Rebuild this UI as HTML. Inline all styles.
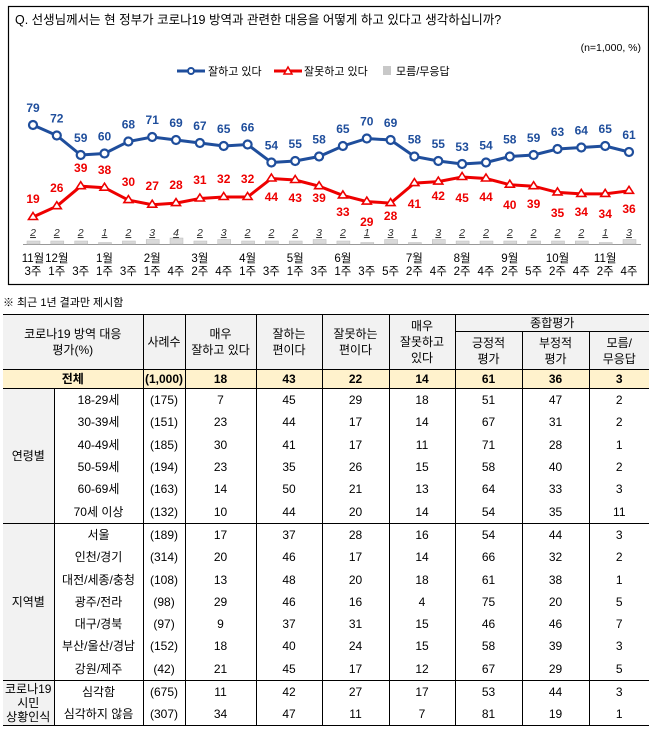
<!DOCTYPE html>
<html><head><meta charset="utf-8">
<style>
body{margin:0;width:649px;height:730px;background:#fff;font-family:"Liberation Sans","Noto Sans CJK KR","NanumGothic",sans-serif;position:relative;overflow:hidden}
svg text{font-family:"Liberation Sans","Noto Sans CJK KR","NanumGothic",sans-serif}
.note{position:absolute;left:3px;top:294px;font-size:11px;color:#000}
table{position:absolute;left:3px;top:314px;border-collapse:collapse;table-layout:fixed;font-size:12px;text-align:center}
td{padding:0;border:0;white-space:nowrap;line-height:14px}
.hd td{background:#f2f2f2;border-left:1px solid #000;line-height:16px}
.tot td{background:#fff2cc;font-weight:bold;border-top:1px solid #000;border-bottom:1px solid #000;border-left:1px solid #000}
.r td{height:22.3px}
.r td.c1{border-left:1px solid #000}
.r td.c2{border-left:1px solid #000}
.g{background:#f2f2f2;border-right:1px solid #000}
.sep td{border-top:1px solid #000}
</style></head><body>
<svg width="649" height="290" style="position:absolute;left:0;top:0">
<rect x="8.5" y="6.5" width="640" height="278" fill="none" stroke="#000" stroke-width="1.2"/>
<text x="15" y="24" font-size="12.5">Q. 선생님께서는 현 정부가 코로나19 방역과 관련한 대응을 어떻게 하고 있다고 생각하십니까?</text>
<text x="641" y="51" font-size="10.5" text-anchor="end">(n=1,000, %)</text>
<line x1="177" y1="71" x2="205" y2="71" stroke="#1f4e9c" stroke-width="3"/><circle cx="191" cy="71" r="3" fill="#fff" stroke="#1f4e9c" stroke-width="2"/>
<text x="208" y="75" font-size="11">잘하고 있다</text>
<line x1="274" y1="71" x2="302" y2="71" stroke="#e00" stroke-width="3"/><path d="M288,67 L292,74 L284,74Z" fill="#fff" stroke="#e00" stroke-width="1.5"/>
<text x="304" y="75" font-size="11">잘못하고 있다</text>
<rect x="383" y="66" width="8" height="9" fill="#c8c8c8"/>
<text x="396" y="75" font-size="11">모름/무응답</text>
<line x1="23" y1="244.5" x2="641" y2="244.5" stroke="#999" stroke-width="1"/>
<g fill="#d9d9d9" stroke="#bbb" stroke-width="0.5">
<rect x="27" y="241" width="13" height="3"/><rect x="50.8" y="241" width="13" height="3"/><rect x="74.7" y="241" width="13" height="3"/><rect x="98.5" y="242.5" width="13" height="1.5"/><rect x="122.4" y="241" width="13" height="3"/><rect x="146.2" y="239.5" width="13" height="4.5"/><rect x="170" y="238" width="13" height="6"/><rect x="193.9" y="241" width="13" height="3"/><rect x="217.7" y="239.5" width="13" height="4.5"/><rect x="241.6" y="241" width="13" height="3"/><rect x="265.4" y="241" width="13" height="3"/><rect x="289.2" y="241" width="13" height="3"/><rect x="313.1" y="239.5" width="13" height="4.5"/><rect x="336.9" y="241" width="13" height="3"/><rect x="360.8" y="242.5" width="13" height="1.5"/><rect x="384.6" y="239.5" width="13" height="4.5"/><rect x="408.4" y="242.5" width="13" height="1.5"/><rect x="432.3" y="239.5" width="13" height="4.5"/><rect x="456.1" y="241" width="13" height="3"/><rect x="480" y="241" width="13" height="3"/><rect x="503.8" y="241" width="13" height="3"/><rect x="527.6" y="241" width="13" height="3"/><rect x="551.5" y="241" width="13" height="3"/><rect x="575.3" y="241" width="13" height="3"/><rect x="599.2" y="242.5" width="13" height="1.5"/><rect x="623" y="239.5" width="13" height="4.5"/>
</g>
<g font-size="10.5" font-style="italic" text-anchor="middle" text-decoration="underline" fill="#333">
<text x="33" y="236">2</text><text x="56.8" y="236">2</text><text x="80.7" y="236">2</text><text x="104.5" y="236">1</text><text x="128.4" y="236">2</text><text x="152.2" y="236">3</text><text x="176" y="236">4</text><text x="199.9" y="236">2</text><text x="223.7" y="236">3</text><text x="247.6" y="236">2</text><text x="271.4" y="236">2</text><text x="295.2" y="236">2</text><text x="319.1" y="236">3</text><text x="342.9" y="236">2</text><text x="366.8" y="236">1</text><text x="390.6" y="236">3</text><text x="414.4" y="236">1</text><text x="438.3" y="236">3</text><text x="462.1" y="236">2</text><text x="486" y="236">2</text><text x="509.8" y="236">2</text><text x="533.6" y="236">2</text><text x="557.5" y="236">2</text><text x="581.3" y="236">2</text><text x="605.2" y="236">1</text><text x="629" y="236">3</text>
</g>
<polyline fill="none" stroke="#1f4e9c" stroke-width="3" points="33,125 56.8,135.5 80.7,155 104.5,153.5 128.4,141.5 152.2,137 176,140 199.9,143 223.7,146 247.6,144.5 271.4,162.5 295.2,161 319.1,156.5 342.9,146 366.8,138.5 390.6,140 414.4,156.5 438.3,161 462.1,164 486,162.5 509.8,156.5 533.6,155 557.5,149 581.3,147.5 605.2,146 629,152"/>
<g fill="#fff" stroke="#1f4e9c" stroke-width="2.2">
<circle cx="33" cy="125" r="4"/><circle cx="56.8" cy="135.5" r="4"/><circle cx="80.7" cy="155" r="4"/><circle cx="104.5" cy="153.5" r="4"/><circle cx="128.4" cy="141.5" r="4"/><circle cx="152.2" cy="137" r="4"/><circle cx="176" cy="140" r="4"/><circle cx="199.9" cy="143" r="4"/><circle cx="223.7" cy="146" r="4"/><circle cx="247.6" cy="144.5" r="4"/><circle cx="271.4" cy="162.5" r="4"/><circle cx="295.2" cy="161" r="4"/><circle cx="319.1" cy="156.5" r="4"/><circle cx="342.9" cy="146" r="4"/><circle cx="366.8" cy="138.5" r="4"/><circle cx="390.6" cy="140" r="4"/><circle cx="414.4" cy="156.5" r="4"/><circle cx="438.3" cy="161" r="4"/><circle cx="462.1" cy="164" r="4"/><circle cx="486" cy="162.5" r="4"/><circle cx="509.8" cy="156.5" r="4"/><circle cx="533.6" cy="155" r="4"/><circle cx="557.5" cy="149" r="4"/><circle cx="581.3" cy="147.5" r="4"/><circle cx="605.2" cy="146" r="4"/><circle cx="629" cy="152" r="4"/>
</g>
<polyline fill="none" stroke="#e00" stroke-width="3" points="33,217 56.8,206.2 80.7,186.2 104.5,187.7 128.4,200.1 152.2,204.7 176,203.1 199.9,198.5 223.7,197 247.6,197 271.4,178.5 295.2,180 319.1,186.2 342.9,195.4 366.8,201.6 390.6,203.1 414.4,183.1 438.3,181.6 462.1,177 486,178.5 509.8,184.7 533.6,186.2 557.5,192.4 581.3,193.9 605.2,193.9 629,190.8"/>
<g fill="#fff" stroke="#e00" stroke-width="1.6">
<path d="M33,212.5l4.5,7h-9z"/><path d="M56.8,201.7l4.5,7h-9z"/><path d="M80.7,181.7l4.5,7h-9z"/><path d="M104.5,183.2l4.5,7h-9z"/><path d="M128.4,195.6l4.5,7h-9z"/><path d="M152.2,200.2l4.5,7h-9z"/><path d="M176,198.6l4.5,7h-9z"/><path d="M199.9,194l4.5,7h-9z"/><path d="M223.7,192.5l4.5,7h-9z"/><path d="M247.6,192.5l4.5,7h-9z"/><path d="M271.4,174l4.5,7h-9z"/><path d="M295.2,175.5l4.5,7h-9z"/><path d="M319.1,181.7l4.5,7h-9z"/><path d="M342.9,190.9l4.5,7h-9z"/><path d="M366.8,197.1l4.5,7h-9z"/><path d="M390.6,198.6l4.5,7h-9z"/><path d="M414.4,178.6l4.5,7h-9z"/><path d="M438.3,177.1l4.5,7h-9z"/><path d="M462.1,172.5l4.5,7h-9z"/><path d="M486,174l4.5,7h-9z"/><path d="M509.8,180.2l4.5,7h-9z"/><path d="M533.6,181.7l4.5,7h-9z"/><path d="M557.5,187.9l4.5,7h-9z"/><path d="M581.3,189.4l4.5,7h-9z"/><path d="M605.2,189.4l4.5,7h-9z"/><path d="M629,186.3l4.5,7h-9z"/>
</g>
<g font-size="12" font-weight="bold" fill="#1f4e9c" text-anchor="middle">
<text x="33" y="112">79</text><text x="56.8" y="122.5">72</text><text x="80.7" y="142">59</text><text x="104.5" y="140.5">60</text><text x="128.4" y="128.5">68</text><text x="152.2" y="124">71</text><text x="176" y="127">69</text><text x="199.9" y="130">67</text><text x="223.7" y="133">65</text><text x="247.6" y="131.5">66</text><text x="271.4" y="149.5">54</text><text x="295.2" y="148">55</text><text x="319.1" y="143.5">58</text><text x="342.9" y="133">65</text><text x="366.8" y="125.5">70</text><text x="390.6" y="127">69</text><text x="414.4" y="143.5">58</text><text x="438.3" y="148">55</text><text x="462.1" y="151">53</text><text x="486" y="149.5">54</text><text x="509.8" y="143.5">58</text><text x="533.6" y="142">59</text><text x="557.5" y="136">63</text><text x="581.3" y="134.5">64</text><text x="605.2" y="133">65</text><text x="629" y="139">61</text>
</g>
<g font-size="12" font-weight="bold" fill="#e00" text-anchor="middle">
<text x="33" y="203">19</text><text x="56.8" y="192">26</text><text x="80.7" y="172">39</text><text x="104.5" y="174">38</text><text x="128.4" y="186">30</text><text x="152.2" y="190">27</text><text x="176" y="189">28</text><text x="199.9" y="184">31</text><text x="223.7" y="183">32</text><text x="247.6" y="183">32</text>
<text x="271.4" y="201">44</text><text x="295.2" y="202">43</text><text x="319.1" y="202">39</text><text x="342.9" y="216">33</text><text x="366.8" y="226">29</text><text x="390.6" y="220">28</text><text x="414.4" y="208">41</text><text x="438.3" y="200">42</text><text x="462.1" y="202">45</text><text x="486" y="201">44</text><text x="509.8" y="209">40</text><text x="533.6" y="208">39</text><text x="557.5" y="217">35</text><text x="581.3" y="216">34</text><text x="605.2" y="218">34</text><text x="629" y="213">36</text>
</g>
<g font-size="11.5" text-anchor="middle" fill="#000">
<text x="33" y="262">11월</text><text x="56.8" y="262">12월</text><text x="104.5" y="262">1월</text><text x="152.2" y="262">2월</text><text x="199.9" y="262">3월</text><text x="247.6" y="262">4월</text><text x="295.2" y="262">5월</text><text x="342.9" y="262">6월</text><text x="414.4" y="262">7월</text><text x="462.1" y="262">8월</text><text x="509.8" y="262">9월</text><text x="557.5" y="262">10월</text><text x="605.2" y="262">11월</text>
<text x="33" y="275">3주</text><text x="56.8" y="275">1주</text><text x="80.7" y="275">3주</text><text x="104.5" y="275">1주</text><text x="128.4" y="275">3주</text><text x="152.2" y="275">1주</text><text x="176" y="275">4주</text><text x="199.9" y="275">2주</text><text x="223.7" y="275">4주</text><text x="247.6" y="275">1주</text><text x="271.4" y="275">3주</text><text x="295.2" y="275">1주</text><text x="319.1" y="275">3주</text><text x="342.9" y="275">1주</text><text x="366.8" y="275">3주</text><text x="390.6" y="275">5주</text><text x="414.4" y="275">2주</text><text x="438.3" y="275">4주</text><text x="462.1" y="275">2주</text><text x="486" y="275">4주</text><text x="509.8" y="275">2주</text><text x="533.6" y="275">5주</text><text x="557.5" y="275">2주</text><text x="581.3" y="275">4주</text><text x="605.2" y="275">2주</text><text x="629" y="275">4주</text>
</g>
</svg>
<div class="note">※ 최근 1년 결과만 제시함</div>
<table style="width:646px;border-top:1px solid #000;border-bottom:1px solid #000">
<colgroup><col style="width:51px"><col style="width:89px"><col style="width:42px"><col style="width:71px"><col style="width:66px"><col style="width:67px"><col style="width:66px"><col style="width:67px"><col style="width:67px"><col style="width:60px"></colgroup>
<tr class="hd" style="height:17px"><td colspan="2" rowspan="2" style="border-left:0">코로나19 방역 대응<br>평가(%)</td><td rowspan="2">사례수</td><td rowspan="2">매우<br>잘하고 있다</td><td rowspan="2">잘하는<br>편이다</td><td rowspan="2">잘못하는<br>편이다</td><td rowspan="2">매우<br>잘못하고<br>있다</td><td colspan="3" style="border-bottom:1px solid #000">종합평가</td></tr>
<tr class="hd" style="height:38px"><td>긍정적<br>평가</td><td>부정적<br>평가</td><td>모름/<br>무응답</td></tr>
<tr class="tot" style="height:19px"><td colspan="2" style="border-left:0">전체</td><td>(1,000)</td><td>18</td><td>43</td><td>22</td><td>14</td><td>61</td><td>36</td><td>3</td></tr>
<tr class="r"><td class="g" rowspan="6">연령별</td><td>18-29세</td><td class="c1">(175)</td><td class="c2">7</td><td class="c2">45</td><td class="c2">29</td><td class="c2">18</td><td class="c2">51</td><td class="c2">47</td><td class="c2">2</td></tr>
<tr class="r"><td>30-39세</td><td class="c1">(151)</td><td class="c2">23</td><td class="c2">44</td><td class="c2">17</td><td class="c2">14</td><td class="c2">67</td><td class="c2">31</td><td class="c2">2</td></tr>
<tr class="r"><td>40-49세</td><td class="c1">(185)</td><td class="c2">30</td><td class="c2">41</td><td class="c2">17</td><td class="c2">11</td><td class="c2">71</td><td class="c2">28</td><td class="c2">1</td></tr>
<tr class="r"><td>50-59세</td><td class="c1">(194)</td><td class="c2">23</td><td class="c2">35</td><td class="c2">26</td><td class="c2">15</td><td class="c2">58</td><td class="c2">40</td><td class="c2">2</td></tr>
<tr class="r"><td>60-69세</td><td class="c1">(163)</td><td class="c2">14</td><td class="c2">50</td><td class="c2">21</td><td class="c2">13</td><td class="c2">64</td><td class="c2">33</td><td class="c2">3</td></tr>
<tr class="r"><td>70세 이상</td><td class="c1">(132)</td><td class="c2">10</td><td class="c2">44</td><td class="c2">20</td><td class="c2">14</td><td class="c2">54</td><td class="c2">35</td><td class="c2">11</td></tr>
<tr class="r sep"><td class="g" rowspan="7">지역별</td><td>서울</td><td class="c1">(189)</td><td class="c2">17</td><td class="c2">37</td><td class="c2">28</td><td class="c2">16</td><td class="c2">54</td><td class="c2">44</td><td class="c2">3</td></tr>
<tr class="r"><td>인천/경기</td><td class="c1">(314)</td><td class="c2">20</td><td class="c2">46</td><td class="c2">17</td><td class="c2">14</td><td class="c2">66</td><td class="c2">32</td><td class="c2">2</td></tr>
<tr class="r"><td>대전/세종/충청</td><td class="c1">(108)</td><td class="c2">13</td><td class="c2">48</td><td class="c2">20</td><td class="c2">18</td><td class="c2">61</td><td class="c2">38</td><td class="c2">1</td></tr>
<tr class="r"><td>광주/전라</td><td class="c1">(98)</td><td class="c2">29</td><td class="c2">46</td><td class="c2">16</td><td class="c2">4</td><td class="c2">75</td><td class="c2">20</td><td class="c2">5</td></tr>
<tr class="r"><td>대구/경북</td><td class="c1">(97)</td><td class="c2">9</td><td class="c2">37</td><td class="c2">31</td><td class="c2">15</td><td class="c2">46</td><td class="c2">46</td><td class="c2">7</td></tr>
<tr class="r"><td>부산/울산/경남</td><td class="c1">(152)</td><td class="c2">18</td><td class="c2">40</td><td class="c2">24</td><td class="c2">15</td><td class="c2">58</td><td class="c2">39</td><td class="c2">3</td></tr>
<tr class="r"><td>강원/제주</td><td class="c1">(42)</td><td class="c2">21</td><td class="c2">45</td><td class="c2">17</td><td class="c2">12</td><td class="c2">67</td><td class="c2">29</td><td class="c2">5</td></tr>
<tr class="r sep"><td class="g" rowspan="2" style="line-height:14px">코로나19<br>시민<br>상황인식</td><td>심각함</td><td class="c1">(675)</td><td class="c2">11</td><td class="c2">42</td><td class="c2">27</td><td class="c2">17</td><td class="c2">53</td><td class="c2">44</td><td class="c2">3</td></tr>
<tr class="r"><td>심각하지 않음</td><td class="c1">(307)</td><td class="c2">34</td><td class="c2">47</td><td class="c2">11</td><td class="c2">7</td><td class="c2">81</td><td class="c2">19</td><td class="c2">1</td></tr>
</table>
</body></html>
